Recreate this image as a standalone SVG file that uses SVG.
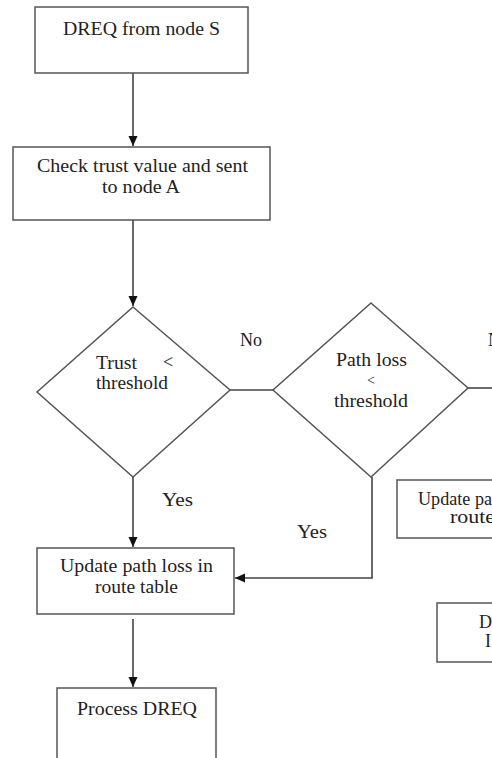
<svg xmlns="http://www.w3.org/2000/svg" width="492" height="758" viewBox="0 0 492 758">
<defs>
<marker id="ah" markerWidth="10" markerHeight="10" viewBox="0 0 10 10" refX="10" refY="5" orient="auto" markerUnits="userSpaceOnUse">
<path d="M0,0.5 L10,5 L0,9.5 Z" fill="#111"/>
</marker>
<style>
.b{fill:#fff;stroke:#555;stroke-width:1.5}
.c{fill:none;stroke:#444;stroke-width:1.6}
text{font-family:"Liberation Serif","Times New Roman",serif;font-size:18px;fill:#222}
.m{text-anchor:middle}
</style>
</defs>
<rect width="492" height="758" fill="#fff"/>
<g id="connectors">
<line class="c" x1="133" y1="73" x2="133" y2="146" marker-end="url(#ah)"/>
<line class="c" x1="133" y1="220" x2="133" y2="306" marker-end="url(#ah)"/>
<line class="c" x1="133" y1="477" x2="133" y2="547" marker-end="url(#ah)"/>
<line class="c" x1="133" y1="619" x2="133" y2="687" marker-end="url(#ah)"/>
<line class="c" x1="230" y1="390" x2="273" y2="390"/>
<line class="c" x1="468" y1="388" x2="492" y2="388"/>
<polyline class="c" points="372,477 372,578 235,578" marker-end="url(#ah)"/>
<text x="240" y="346" textLength="22" lengthAdjust="spacingAndGlyphs">No</text>
<text x="488" y="346">N</text>
<text x="162" y="506" textLength="31" lengthAdjust="spacingAndGlyphs">Yes</text>
<text x="297" y="538" textLength="30" lengthAdjust="spacingAndGlyphs">Yes</text>
</g>
<g id="n1">
<rect class="b" x="35" y="7" width="213" height="66"/>
<text x="63" y="35" textLength="157" lengthAdjust="spacingAndGlyphs">DREQ from node S</text>
</g>
<g id="n2">
<rect class="b" x="13" y="147" width="257" height="73"/>
<text x="37" y="172" textLength="211" lengthAdjust="spacingAndGlyphs">Check trust value and sent</text>
<text x="102" y="193" textLength="78" lengthAdjust="spacingAndGlyphs">to node A</text>
</g>
<g id="d1">
<polygon class="b" points="133,307 230,390 133,477 37,392"/>
<text x="96" y="369" textLength="41" lengthAdjust="spacingAndGlyphs">Trust</text>
<text x="163" y="368">&lt;</text>
<text x="96" y="389" textLength="72" lengthAdjust="spacingAndGlyphs">threshold</text>
</g>
<g id="d2">
<polygon class="b" points="371,303 468,388 371,477 273,390"/>
<text x="336" y="366" textLength="71" lengthAdjust="spacingAndGlyphs">Path loss</text>
<text x="371" y="385" class="m" style="font-size:14px">&lt;</text>
<text x="334" y="407" textLength="74" lengthAdjust="spacingAndGlyphs">threshold</text>
</g>
<g id="n3">
<rect class="b" x="37" y="548" width="197" height="66"/>
<text x="60" y="572" textLength="153" lengthAdjust="spacingAndGlyphs">Update path loss in</text>
<text x="95" y="593" textLength="83" lengthAdjust="spacingAndGlyphs">route table</text>
</g>
<g id="n4">
<rect class="b" x="57" y="688" width="159" height="80"/>
<text x="77" y="715" textLength="120" lengthAdjust="spacingAndGlyphs">Process DREQ</text>
</g>
<g id="n5">
<rect class="b" x="397" y="480" width="110" height="58"/>
<text x="418" y="505" textLength="74" lengthAdjust="spacingAndGlyphs">Update pa</text>
<text x="450" y="523" textLength="45" lengthAdjust="spacingAndGlyphs">route</text>
</g>
<g id="n6">
<rect class="b" x="437" y="603" width="70" height="59"/>
<text x="479" y="628">D</text>
<text x="485" y="647">I</text>
</g>
</svg>
